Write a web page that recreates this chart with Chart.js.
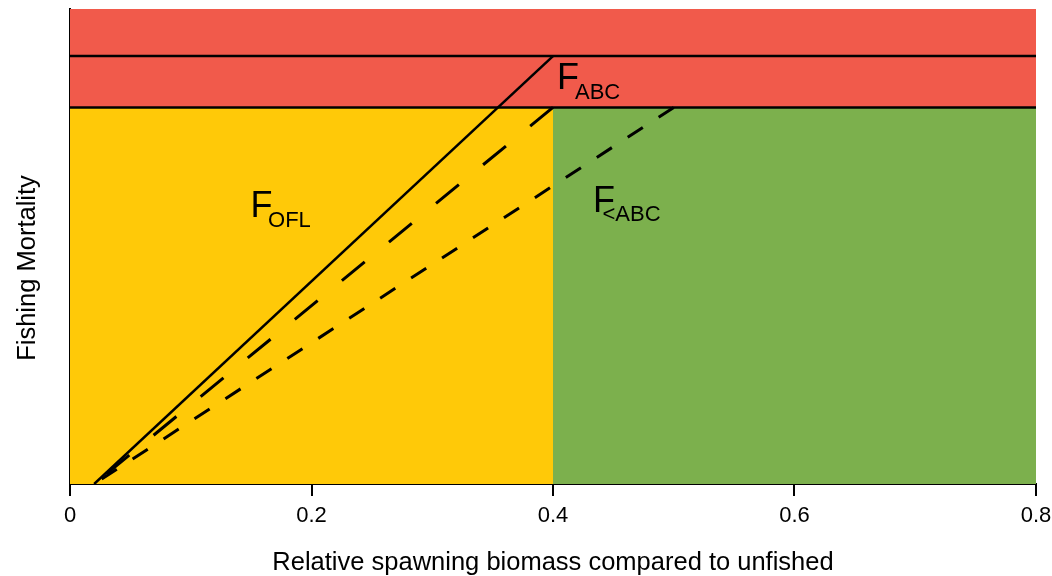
<!DOCTYPE html>
<html>
<head>
<meta charset="utf-8">
<title>Harvest control rule</title>
<script src="https://cdn.jsdelivr.net/npm/chart.js@4.4.1/dist/chart.umd.min.js"></script>
<style>
  html, body { margin: 0; padding: 0; background: #ffffff; }
  #wrap { width: 1052px; height: 576px; }
</style>
</head>
<body>
<div id="wrap"><canvas id="hcr" width="1052" height="576"></canvas></div>
<script>
// Axis ranges and ticks
const xRange = [0, 0.8];
const yRange = [0, 1.11];
const xTickValues = [0, 0.2, 0.4, 0.6, 0.8];
const xTickLabels = ['0', '0.2', '0.4', '0.6', '0.8'];

// Reference fishing mortality levels (relative units)
const fOFL = 1.0;
const fABC = 0.88;

// Horizontal reference lines across the biomass range
const refLineBiomass = [0, 0.8];
const refLineOFL = [fOFL, fOFL];
const refLineABC = [fABC, fABC];

// Control-rule ramps, listed from the target biomass down to the origin
const oflBiomass = [0.4, 0.02];
const oflF = [1.0, 0];
const abcBiomass = [0.4, 0.02];
const abcF = [0.88, 0];
const lowerAbcBiomass = [0.5, 0.02];
const lowerAbcF = [0.88, 0];

// Shaded zones: [xFrom, xTo, yFrom, yTo]
const zoneNames = ['above', 'rebuilding', 'healthy'];
const zoneX0 = [0, 0, 0.4];
const zoneX1 = [0.8, 0.4, 0.8];
const zoneY0 = [fABC, 0, 0];
const zoneY1 = [1.11, fABC, fABC];
const zoneColors = ['#F15A4B', '#FFC908', '#7CB04D'];

const toPoints = (xs, ys) => xs.map((x, i) => ({ x: x, y: ys[i] }));

const FONT = '"Liberation Sans", Arial, Helvetica, sans-serif';

// Paints the coloured zones under the lines
const zonePlugin = {
  id: 'zones',
  beforeDatasetsDraw(chart) {
    const { ctx, scales: { x, y } } = chart;
    ctx.save();
    zoneNames.forEach((name, i) => {
      const left = x.getPixelForValue(zoneX0[i]);
      const right = x.getPixelForValue(zoneX1[i]);
      const top = y.getPixelForValue(zoneY1[i]);
      const bottom = y.getPixelForValue(zoneY0[i]);
      ctx.fillStyle = zoneColors[i];
      ctx.fillRect(left, top, right - left, bottom - top);
    });
    ctx.restore();
  }
};

// Line labels with subscripts, anchored in data units
const lineLabels = [
  { main: 'F', sub: 'ABC',  x: 0.4033, y: 0.922, subDx: 18,  subDy: 10 },
  { main: 'F', sub: 'OFL',  x: 0.1495, y: 0.6245, subDx: 17.5, subDy: 10 },
  { main: 'F', sub: '<ABC', x: 0.4331, y: 0.636, subDx: 9.5, subDy: 9.5 }
];

const textPlugin = {
  id: 'texts',
  afterDraw(chart) {
    const { ctx, chartArea, scales: { x, y } } = chart;
    ctx.save();
    ctx.fillStyle = '#000000';
    ctx.textBaseline = 'alphabetic';
    ctx.textAlign = 'left';
    lineLabels.forEach(l => {
      const px = x.getPixelForValue(l.x);
      const py = y.getPixelForValue(l.y);
      ctx.font = '36px ' + FONT;
      ctx.fillText(l.main, px, py);
      ctx.font = '22px ' + FONT;
      ctx.fillText(l.sub, px + l.subDx, py + l.subDy);
    });

    // Axis titles
    ctx.font = '25.5px ' + FONT;
    ctx.textAlign = 'center';
    ctx.fillText('Relative spawning biomass compared to unfished',
      (chartArea.left + chartArea.right) / 2, 570);
    ctx.translate(35, 268);
    ctx.rotate(-Math.PI / 2);
    ctx.fillText('Fishing Mortality', 0, 0);
    ctx.restore();
  }
};

const lineStyle = (dash, width) => ({
  borderColor: '#000000',
  borderWidth: width,
  borderDash: dash,
  borderCapStyle: 'butt',
  pointRadius: 0,
  fill: false,
  tension: 0
});

new Chart(document.getElementById('hcr'), {
  type: 'line',
  data: {
    datasets: [
      Object.assign({ label: 'OFL level', data: toPoints(refLineBiomass, refLineOFL) }, lineStyle([], 2.5)),
      Object.assign({ label: 'ABC level', data: toPoints(refLineBiomass, refLineABC) }, lineStyle([], 2.5)),
      Object.assign({ label: 'F OFL', data: toPoints(oflBiomass, oflF) }, lineStyle([], 2.5)),
      Object.assign({ label: 'F ABC', data: toPoints(abcBiomass, abcF) }, lineStyle([29.5, 31.4], 3)),
      Object.assign({ label: 'F <ABC', data: toPoints(lowerAbcBiomass, lowerAbcF) }, lineStyle([18, 18.9], 3))
    ]
  },
  options: {
    responsive: false,
    animation: false,
    layout: { padding: { top: 9, right: 16, left: 0, bottom: 0 } },
    plugins: {
      legend: { display: false },
      tooltip: { enabled: false }
    },
    scales: {
      x: {
        type: 'linear',
        min: xRange[0],
        max: xRange[1],
        afterFit(scale) {
          scale.height = 92;
          scale.paddingLeft = 0;
          scale.paddingRight = 0;
        },
        afterBuildTicks(scale) { scale.ticks = xTickValues.map(v => ({ value: v })); },
        ticks: {
          padding: 7,
          color: '#000000',
          font: { family: FONT, size: 22 },
          maxRotation: 0,
          callback: (value) => xTickLabels[xTickValues.indexOf(value)]
        },
        grid: {
          drawOnChartArea: false,
          drawTicks: true,
          tickLength: 12,
          color: '#000000',
          lineWidth: 2
        },
        border: { display: true, color: '#000000', width: 2 }
      },
      y: {
        type: 'linear',
        min: yRange[0],
        max: yRange[1],
        afterFit(scale) { scale.width = 70; },
        ticks: { display: false },
        grid: { display: false },
        border: { display: true, color: '#000000', width: 2 }
      }
    }
  },
  plugins: [zonePlugin, textPlugin]
});
</script>
</body>
</html>
